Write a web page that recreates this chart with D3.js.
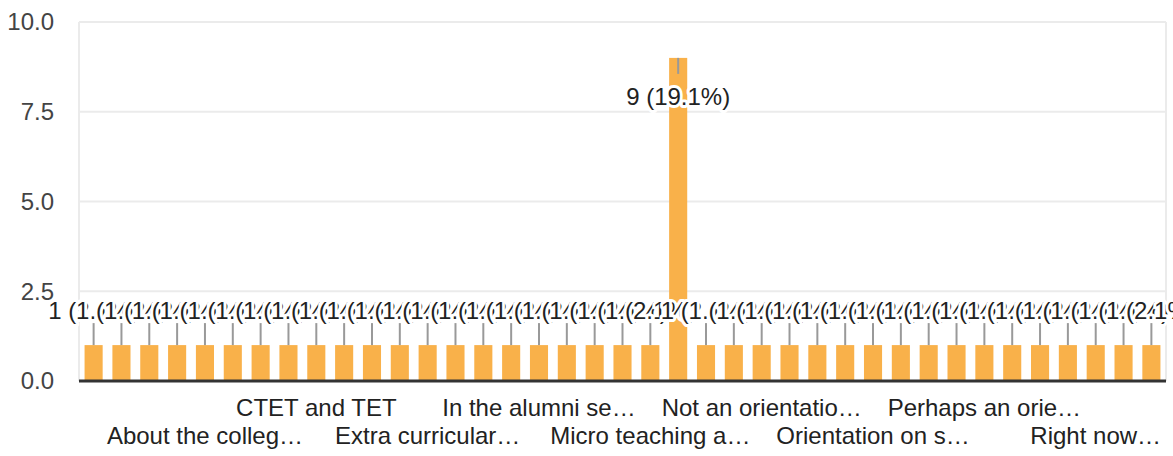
<!DOCTYPE html>
<html>
<head>
<meta charset="utf-8">
<script src="https://cdn.jsdelivr.net/npm/d3@7"></script>
<style>
  body { margin: 0; background: #fff; }
  text { font-family: "Liberation Sans", Arial, sans-serif; }
</style>
</head>
<body>
<div id="chart"></div>
<script>
// answers (labels as they show up, long ones are cut by the form)
const categories = [
  "A brief introduction…", "A proper orientatio…", "About B.Ed course", "About syllabus",
  "About the colleg…", "All good", "Career guidance", "Classroom manage…",
  "CTET and TET", "Communication sk…", "Computer skills", "Everything is fine",
  "Extra curricular…", "Field visits", "Guidance for jobs", "ICT training",
  "In the alumni se…", "Internship details", "Lesson planning", "Life skills",
  "Micro teaching a…", "No", "No comments", "None",
  "Not an orientatio…", "Nothing", "Online classes", "Orientation abou…",
  "Orientation on s…", "Orientation regar…", "Parent teacher m…", "Perfect",
  "Perhaps an orie…", "Practical sessions", "Practice teaching", "Research methods",
  "Right now…", "Teaching aids", "Yoga and sports"
];
const values = [
  1, 1, 1, 1, 1, 1, 1, 1, 1, 1,
  1, 1, 1, 1, 1, 1, 1, 1, 1, 1,
  1, 9, 1, 1, 1, 1, 1, 1, 1, 1,
  1, 1, 1, 1, 1, 1, 1, 1, 1
];
// only every 4th answer gets a label on the axis
const tickLabels = [
  "About the colleg…", "CTET and TET", "Extra curricular…", "In the alumni se…",
  "Micro teaching a…", "Not an orientatio…", "Orientation on s…", "Perhaps an orie…",
  "Right now…"
];
const yTicks = [0, 2.5, 5, 7.5, 10];

var width = 1173, height = 456;
var plot = {left: 79, right: 1166, top: 22, bottom: 381};
var total = d3.sum(values);
var pct = d3.format(".1%");

var data = categories.map(function(c, i){ return {cat: c, v: values[i]}; });

var svg = d3.select("#chart").append("svg")
    .attr("width", width)
    .attr("height", height);

var x = d3.scaleBand()
    .domain(categories)
    .range([plot.left, plot.right])
    .paddingInner(0.35)
    .paddingOuter(0.2);

var y = d3.scaleLinear()
    .domain([0, 10])
    .range([plot.bottom, plot.top]);

//grid + frame
svg.append("g")
    .selectAll("line")
    .data(yTicks.filter(function(t){ return t > 0; }))
    .enter().append("line")
    .attr("x1", plot.left).attr("x2", plot.right)
    .attr("y1", function(d){ return y(d); })
    .attr("y2", function(d){ return y(d); })
    .attr("stroke", "#ebebeb")
    .attr("stroke-width", 2);

svg.append("g")
    .selectAll("line")
    .data([plot.left, plot.right])
    .enter().append("line")
    .attr("x1", function(d){ return d; }).attr("x2", function(d){ return d; })
    .attr("y1", plot.top).attr("y2", plot.bottom)
    .attr("stroke", "#ebebeb")
    .attr("stroke-width", 2);

//y labels
svg.append("g")
    .selectAll("text")
    .data(yTicks)
    .enter().append("text")
    .attr("x", 54)
    .attr("y", function(d){ return y(d); })
    .attr("dy", "0.35em")
    .attr("text-anchor", "end")
    .attr("font-size", 24)
    .attr("fill", "#444")
    .text(d3.format(".1f"));

//bars
svg.append("g")
    .selectAll("rect")
    .data(data)
    .enter().append("rect")
    .attr("x", function(d){ return x(d.cat); })
    .attr("width", x.bandwidth())
    .attr("y", function(d){ return y(d.v); })
    .attr("height", function(d){ return y(0) - y(d.v); })
    .attr("fill", "#f9b14a");

//baseline
svg.append("line")
    .attr("x1", plot.left).attr("x2", plot.right)
    .attr("y1", plot.bottom).attr("y2", plot.bottom)
    .attr("stroke", "#333")
    .attr("stroke-width", 3);

//label goes above the bar unless there's no room, then inside
function above(d){ return y(d.v) - 47 > plot.top; }
function labelY(d){ return above(d) ? y(d.v) - 35 : y(d.v) + 39; }

svg.append("g")
    .selectAll("line")
    .data(data)
    .enter().append("line")
    .attr("x1", function(d){ return x(d.cat) + x.bandwidth() / 2; })
    .attr("x2", function(d){ return x(d.cat) + x.bandwidth() / 2; })
    .attr("y1", function(d){ return y(d.v); })
    .attr("y2", function(d){ return above(d) ? y(d.v) - 22 : y(d.v) + 16; })
    .attr("stroke", "#999")
    .attr("stroke-width", 2);

svg.append("g")
    .selectAll("text")
    .data(data)
    .enter().append("text")
    .attr("x", function(d){ return x(d.cat) + x.bandwidth() / 2; })
    .attr("y", labelY)
    .attr("dy", "0.35em")
    .attr("text-anchor", "middle")
    .attr("font-size", 24)
    .attr("fill", "#222")
    .attr("stroke", "#fff")
    .attr("stroke-width", 6)
    .attr("stroke-linejoin", "round")
    .attr("paint-order", "stroke")
    .text(function(d){ return d.v + " (" + pct(d.v / total) + ")"; });

//x labels, two staggered rows
var xAxis = svg.append("g")
    .attr("transform", "translate(0," + plot.bottom + ")")
    .call(d3.axisBottom(x).tickValues(tickLabels).tickSize(0));
xAxis.select(".domain").remove();
xAxis.selectAll("text")
    .attr("dy", null)
    .attr("y", function(d, i){ return i % 2 == 0 ? 63 : 35; })
    .attr("font-size", 24)
    .attr("font-family", "Liberation Sans, Arial, sans-serif")
    .attr("fill", "#222");
</script>
</body>
</html>
